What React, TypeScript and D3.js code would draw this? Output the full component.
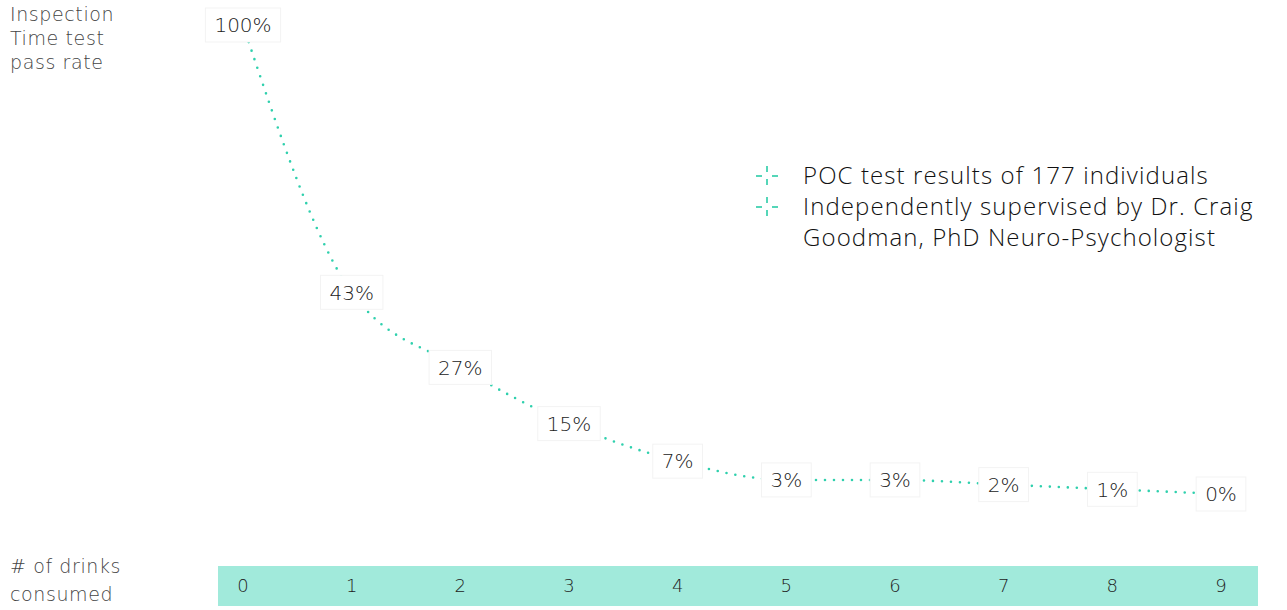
// pass rate vs number of drinks, drawn with d3
import * as d3 from "d3";
import { useEffect, useRef } from "react";

const drinks = ["0", "1", "2", "3", "4", "5", "6", "7", "8", "9"];
const passRate = [100, 43, 27, 15, 7, 3, 3, 2, 1, 0];
const yTitle = ["Inspection", "Time test", "pass rate"];
const xTitle = ["# of drinks", "consumed"];
const notes = [
  ["POC test results of 177 individuals"],
  ["Independently supervised by Dr. Craig", "Goodman, PhD Neuro-Psychologist"],
];

export default function App() {
  const svgRef = useRef<SVGSVGElement>(null);

  useEffect(() => {
    const width = 1287;
    const height = 610;
    const svg = d3.select(svgRef.current);
    svg.selectAll("*").remove();
    svg.attr("width", width).attr("height", height);

    const teal = "#2fd0ad";
    const font = "'DejaVu Sans', sans-serif";

    const x = d3.scalePoint<string>().domain(drinks).range([243, 1221]);
    const y = d3.scaleLinear().domain([0, 100]).range([494, 25]);

    // bottom band with drink counts
    svg
      .append("rect")
      .attr("x", 218)
      .attr("y", 566)
      .attr("width", 1040)
      .attr("height", 40)
      .attr("fill", "#a1eadb");
    svg
      .append("g")
      .selectAll("text")
      .data(drinks)
      .enter()
      .append("text")
      .attr("x", (d) => x(d)!)
      .attr("y", 586)
      .attr("dy", "0.36em")
      .attr("text-anchor", "middle")
      .style("font-family", font)
      .style("font-weight", 200)
      .style("font-size", "18px")
      .style("fill", "#222")
      .text((d) => d);

    // dotted line through the points
    const line = d3
      .line<number>()
      .x((d, i) => x(drinks[i])!)
      .y((d) => y(d))
      .curve(d3.curveMonotoneX);
    svg
      .append("path")
      .datum(passRate)
      .attr("d", line)
      .attr("fill", "none")
      .attr("stroke", teal)
      .attr("stroke-width", 2.6)
      .attr("stroke-linecap", "round")
      .attr("stroke-dasharray", "0 9");

    // value labels on white boxes
    const labels = svg
      .append("g")
      .selectAll("g")
      .data(passRate)
      .enter()
      .append("g")
      .attr("transform", (d, i) => `translate(${x(drinks[i])},${y(d)})`);
    labels.each(function (d) {
      const g = d3.select(this);
      const rect = g.append("rect");
      const t = g
        .append("text")
        .attr("text-anchor", "middle")
        .attr("dy", "0.36em")
        .style("font-family", font)
        .style("font-weight", 200)
        .style("font-size", "20px")
        .style("fill", "#222")
        .text(d + "%");
      const bb = (t.node() as SVGTextElement).getBBox();
      rect
        .attr("x", bb.x - 9)
        .attr("y", -17)
        .attr("width", bb.width + 18)
        .attr("height", 34)
        .attr("fill", "#fff")
        .attr("stroke", "#f3f3f3");
    });

    // axis titles
    const titleText = (sel: d3.Selection<SVGTextElement, string, SVGGElement, unknown>) =>
      sel
        .attr("x", 10)
        .attr("dy", "0.36em")
        .style("font-family", font)
        .style("font-weight", 200)
        .style("font-size", "19px")
        .style("letter-spacing", "0.6px")
        .style("fill", "#444")
        .text((d) => d);
    svg
      .append("g")
      .selectAll("text")
      .data(yTitle)
      .enter()
      .append("text")
      .attr("y", (d, i) => 14 + i * 24)
      .call(titleText);
    svg
      .append("g")
      .selectAll("text")
      .data(xTitle)
      .enter()
      .append("text")
      .attr("y", (d, i) => 566 + i * 28)
      .call(titleText);

    // notes with little dashed-cross markers
    let row = 0;
    notes.forEach((lines) => {
      const cy = 176 + row * 31;
      const m = svg.append("g").attr("transform", `translate(767,${cy})`);
      m.append("line").attr("x1", -11).attr("x2", -5).attr("y1", 0).attr("y2", 0);
      m.append("line").attr("x1", 5).attr("x2", 11).attr("y1", 0).attr("y2", 0);
      m.append("line").attr("x1", 0).attr("x2", 0).attr("y1", -10).attr("y2", -4);
      m.append("line").attr("x1", 0).attr("x2", 0).attr("y1", 3).attr("y2", 9);
      m.selectAll("line").attr("stroke", "#55d6b8").attr("stroke-width", 2);
      lines.forEach((l) => {
        svg
          .append("text")
          .attr("x", 803)
          .attr("y", 176 + row * 31)
          .attr("dy", "0.35em")
          .style("font-family", "'Open Sans', sans-serif")
          .style("font-weight", 300)
          .style("font-size", "24px")
          .style("letter-spacing", "1.1px")
          .style("fill", "#111")
          .text(l);
        row++;
      });
    });
  }, []);

  return (
    <div style={{ position: "absolute", left: 0, top: 0, background: "#fff" }}>
      <svg ref={svgRef} style={{ display: "block" }} />
    </div>
  );
}
